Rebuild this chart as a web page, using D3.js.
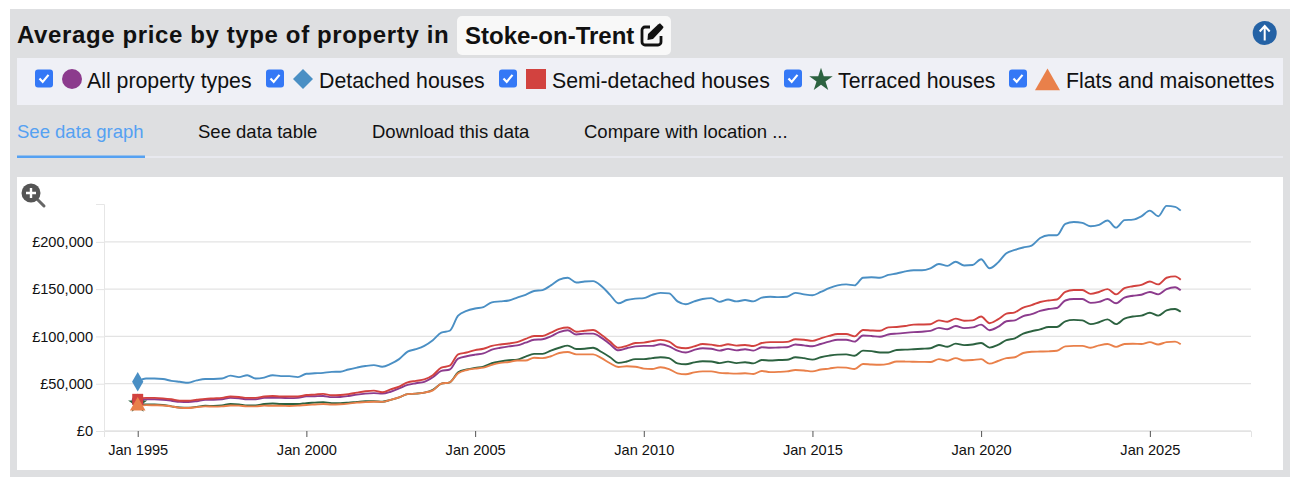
<!DOCTYPE html>
<html>
<head>
<meta charset="utf-8">
<script src="https://cdn.jsdelivr.net/npm/d3@7"></script>
<style>
  html, body { margin: 0; padding: 0; background: #fff; }
  svg { display: block; font-family: "Liberation Sans", Arial, sans-serif; }
  .grid line { stroke: #e3e3e3; stroke-width: 1.3; }
  .tick text { fill: #111; font-size: 14.6px; }
</style>
</head>
<body>
<div id="plot"></div>
<script>
// values are in thousands of pounds, one per quarter from Jan 1995, last one is Dec 2025
const allTypes = [
  31.5,33.5,33.5,33, 32,30.8,30.6,31.5, 33,33,33.5,35, 34.5,33.5,33.5,35, 35,35,34.8,35,
  36.6,36.8,37,35.8, 36,37,38.5,39.5, 40,39.5,41.5,45, 48.7,50.5,52,56.8, 63.5,65,76.5,79,
  80.7,82,86,88, 89.5,90.5,93.4,96.5, 97,100,104.5,106.5, 102,103,103,98.5, 91.7,85.3,87.5,89.5,
  90,90,91.7,89.5, 85,83,85.7,87.5, 87,85,86.8,85.2, 86.5,85,88.5,88, 88.3,88.5,91.5,90.5,
  89.6,92,94.5,96.5, 96.5,94.5,101,100.5, 99.6,102,103,103.8, 104.5,105,105.8,109, 107.6,111,108.8,109.5,
  112.5,106.5,110,116, 117,121.5,123.5,127, 129,130,138,139.5, 139.5,135.5,136.5,139.5, 135,141,143,144,
  147,144.5,150,152, 148.7];
const detached = [
  52,55.5,55.5,55, 53,52,51,53.5, 55,55,55.5,58.5, 57,59,55.5,56.5, 59,58,58,57,
  60.5,61,61.5,62.5, 62.7,65,67,68.7, 69.7,68,71,76, 84,86.5,90,96, 104,106,122,127,
  129.5,131,136,137, 138,141,144,148, 149,154,160,162, 157,158,158.5,153, 144,135,138.5,140,
  140.5,144,146,145.5, 137,134,137,139.5, 140.5,136.5,139,137, 138.5,137,141,142, 141.5,142,146,144.5,
  143.5,147,151,154, 155,154,162,162.5, 162,165,166.5,168.7, 170,170,172,176.5, 174.6,179,175,175.5,
  181.6,172,178,188, 191.5,194,196,204, 207,207,219,221, 220,216.5,218,222.6, 215,223,223.5,227,
  233,227,238,237, 233];
const semiDetached = [
  33.5,35,35,34.5, 33.5,32,32,33, 34,34.5,35,36.5, 36,35,35,36.5, 37,36.5,36.5,36.5,
  38,38.5,39.2,37.8, 38,39,40.6,42, 42.7,41,44,47, 51.5,53,54.5,59, 67,69,81,83,
  85.5,87,90,91.5, 92.5,94,97.3,100.5, 100.5,104,108,109.5, 105,106,106.8,101.5, 94.5,88,90,93,
  93.4,95,96.3,94.5, 88.5,87.5,89.5,92, 91.3,90,91.7,90.3, 91,89.8,93,94, 94,94.2,97,96.5,
  95.3,98,100.5,102.5, 102.5,100,106.8,106.3, 106,109.6,110,111, 112.5,112.6,112.8,117, 115.5,118.8,116.5,117,
  121,114,118,124, 125.5,130.5,133,136.4, 138,139,147,149, 149,145,147,150, 144.5,151,153,154.5,
  158,155,162,163.5, 160];
const terraced = [
  29,28,28,27.5, 26,24.8,24.6,25.5, 26.7,26.5,27,28.5, 28,27,27,28.5, 29,28.5,28.5,28.5,
  29.5,30,30.5,29.5, 29.5,30,30.8,31.5, 31.5,31,32.9,35.5, 39,39.5,40.6,43.5, 50,51.5,62,65,
  66.8,68,71.6,73.5, 74.8,75.5,78.7,81.5, 81.5,85,88,90.3, 86.7,87,88,83.5, 78,72,73.5,76,
  76,77,78,77, 71.5,70.5,72.5,73.7, 73.5,71.8,73.4,71.8, 72.7,71.5,75,74.5, 75,75.3,78,77,
  75.5,78,79.7,80.8, 81,79.5,85,84.5, 83,83,85.7,86, 86.5,87,87.5,91, 89,92.4,90.8,91.5,
  93,88.2,91,96, 98,103,105.5,107.5, 110,110,116,117.5, 117,113,115,118, 113,118.8,121,122,
  125,122,127.5,129, 126];
const flats = [
  26.5,27.4,27.2,27, 26,24.5,24.3,25.2, 26,25.8,26,27, 26.8,26,26,26.8, 26.7,26.7,26.5,26.8,
  27.5,28,28.5,28, 28.3,29,30,30.5, 31,30.8,32.9,35.5, 39,39.5,40.6,43, 50,51.5,61,64.5,
  66,67,69.9,72, 73,74.5,74.5,77.5, 77,79,82.5,83.5, 81,81,81,77, 71.6,67.7,68.4,68,
  66,65.5,67.4,65.5, 61,60,62,63, 63,61.5,61,60.7, 61,60.2,63.5,62.3, 62.5,63,64.5,64,
  63,65,66,67.3, 67,65.5,70.9,70.3, 70,71,73.5,73.4, 73.2,73.1,73,76, 74.3,77,74.5,75,
  76,71.2,74,77, 78,82.5,83.8,84, 84.2,84.8,89.5,90, 90,88,90.5,92, 88.9,92,92.3,92,
  94,91.5,94,94.5, 91.7];

const seriesNames = ["All property types", "Detached houses", "Semi-detached houses", "Terraced houses", "Flats and maisonettes"];
const seriesValues = [allTypes, detached, semiDetached, terraced, flats];
const seriesColors = ["#8c3b8d", "#4a8fc4", "#d2423f", "#2c6240", "#e9804a"];
const seriesSymbols = [d3.symbolCircle, d3.symbolDiamond, d3.symbolSquare, d3.symbolStar, d3.symbolTriangle];
const tabNames = ["See data graph", "See data table", "Download this data", "Compare with location ..."];
const yTicks = [0, 50000, 100000, 150000, 200000];
const xTickYears = [1995, 2000, 2005, 2010, 2015, 2020, 2025];

// quarters plus the final month
const dates = d3.timeMonths(new Date(1995, 0, 1), new Date(2026, 0, 1), 3);
dates.push(new Date(2025, 11, 1));

const svg = d3.select("#plot").append("svg")
  .attr("width", 1304)
  .attr("height", 488);

// grey panel
svg.append("rect").attr("x", 10).attr("y", 9).attr("width", 1280).attr("height", 468).attr("fill", "#dedfe1");

// heading
svg.append("text").attr("x", 17).attr("y", 43)
  .attr("font-size", 24).attr("font-weight", "bold").attr("fill", "#111")
  .attr("letter-spacing", 0.62)
  .text("Average price by type of property in");
svg.append("rect").attr("x", 457).attr("y", 16).attr("width", 214).attr("height", 39).attr("rx", 5).attr("fill", "#f8f8f8");
svg.append("text").attr("x", 465).attr("y", 44)
  .attr("font-size", 24).attr("font-weight", "bold").attr("fill", "#111")
  .text("Stoke-on-Trent");

// edit icon
const edit = svg.append("g").attr("transform", "translate(641,23)");
edit.append("path")
  .attr("d", "M9 4H4a3 3 0 0 0-3 3v12a3 3 0 0 0 3 3h13a3 3 0 0 0 3-3v-6")
  .attr("fill", "none").attr("stroke", "#111").attr("stroke-width", 2.8);
edit.append("path")
  .attr("d", "M7 11L17 1.5l2-1.2 3.6 3.6-1.2 2L12 16l-5.5 1z")
  .attr("fill", "#111");

// up arrow button
const up = svg.append("g").attr("transform", "translate(1264.7,33)");
up.append("circle").attr("r", 12).attr("fill", "#2462a5");
up.append("path").attr("d", "M0 7.5V-7M-5-1.5L0-7 5-1.5")
  .attr("fill", "none").attr("stroke", "#fff").attr("stroke-width", 2);

// legend bar
svg.append("rect").attr("x", 17).attr("y", 58).attr("width", 1266).attr("height", 47).attr("fill", "#eff0f6");
const legendX = [35, 266, 499, 784, 1009];
const legendText = [87, 319, 552, 838, 1066];
const legendMark = [[72, 79], [303, 79], [536, 79], [821, 80], [1047.5, 83]];
const legendSize = [314, 200, 400, 171, 270];
seriesNames.forEach((name, i) => {
  const g = svg.append("g");
  g.append("rect").attr("x", legendX[i]).attr("y", 69.5).attr("width", 18).attr("height", 18).attr("rx", 3).attr("fill", "#3478f6");
  g.append("path").attr("d", `M${legendX[i] + 4.5} 78.5l3.2 3.4 5.8-7`)
    .attr("fill", "none").attr("stroke", "#fff").attr("stroke-width", 2.2);
  // the legend diamond is a turned square, wider than the chart marker
  const turn = i === 1 ? " rotate(45)" : "";
  const type = i === 1 ? d3.symbolSquare : seriesSymbols[i];
  g.append("path")
    .attr("d", d3.symbol().type(type).size(legendSize[i]))
    .attr("transform", `translate(${legendMark[i][0]},${legendMark[i][1]})${turn}`)
    .attr("fill", seriesColors[i]);
  g.append("text").attr("x", legendText[i]).attr("y", 88)
    .attr("font-size", 21.3).attr("fill", "#111").text(name);
});

// tabs
const tabX = [17, 198, 372, 584];
tabNames.forEach((name, i) => {
  svg.append("text").attr("x", tabX[i]).attr("y", 138)
    .attr("font-size", 18.5).attr("fill", i === 0 ? "#55a1f2" : "#111").text(name);
});
svg.append("rect").attr("x", 17).attr("y", 156).attr("width", 1266).attr("height", 2).attr("fill", "#e8e9ef");
svg.append("rect").attr("x", 17).attr("y", 155.5).attr("width", 128).attr("height", 2.5).attr("fill", "#55a1f2");

// chart card
svg.append("rect").attr("x", 17).attr("y", 177).attr("width", 1266).attr("height", 293).attr("fill", "#fff");

// scales
const x = d3.scaleTime()
  .domain([new Date(1994, 0, 1), new Date(2028, 0, 1)])
  .range([104, 1251]);
const y = d3.scaleLinear()
  .domain([0, 240000])
  .range([431, 204]);

// gridlines
svg.append("g").attr("class", "grid")
  .selectAll("line")
  .data(yTicks)
  .join("line")
    .attr("x1", 104).attr("x2", 1251)
    .attr("y1", d => y(d)).attr("y2", d => y(d));

// axes
const xAxis = d3.axisBottom(x)
  .tickValues(xTickYears.map(yr => new Date(yr, 0, 1)))
  .tickFormat(d3.timeFormat("Jan %Y"))
  .tickSize(6);
const gx = svg.append("g").attr("transform", "translate(0,431)").call(xAxis);
gx.select(".domain").attr("stroke", "#e3e3e3");
gx.selectAll(".tick line").attr("stroke", "#555");
gx.selectAll(".tick text").attr("dy", "1em");

const yAxis = d3.axisLeft(y)
  .tickValues(yTicks)
  .tickFormat(d => "£" + d3.format(",")(d))
  .tickSize(8);
const gy = svg.append("g").attr("transform", "translate(104,0)").call(yAxis);
gy.select(".domain").attr("stroke", "#e6e6e6");
gy.selectAll(".tick line").attr("stroke", "#e3e3e3");

// lines
const line = d3.line()
  .x((d, i) => x(dates[i]))
  .y(d => y(d * 1000))
  .curve(d3.curveMonotoneX);

seriesValues.forEach((vals, i) => {
  svg.append("path").datum(vals)
    .attr("d", line)
    .attr("fill", "none")
    .attr("stroke", seriesColors[i])
    .attr("stroke-width", 1.9);
});

// first point markers
const markerSize = [120, 110, 120, 115, 105];
[0, 3, 1, 2, 4].forEach(i => {
  svg.append("path")
    .attr("d", d3.symbol().type(seriesSymbols[i]).size(markerSize[i]))
    .attr("transform", `translate(${x(dates[0])},${y(seriesValues[i][0] * 1000)})`)
    .attr("fill", seriesColors[i]);
});

// zoom icon
const mag = svg.append("g").attr("transform", "translate(31,193)");
mag.append("line").attr("x1", 6).attr("y1", 6).attr("x2", 13).attr("y2", 13)
  .attr("stroke", "#666").attr("stroke-width", 3).attr("stroke-linecap", "round");
mag.append("circle").attr("r", 9.5).attr("fill", "#555");
mag.append("path").attr("d", "M-5 0H5M0-5V5").attr("stroke", "#fff").attr("stroke-width", 2.4);
</script>
</body>
</html>
